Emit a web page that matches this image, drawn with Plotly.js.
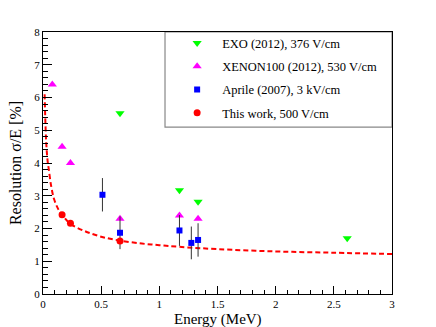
<!doctype html>
<html lang="en">
    <head>
        <meta charset="UTF-8" />
        <title>Energy resolution</title>
        <script src="https://cdn.plot.ly/plotly-3.0.1.min.js"></script>
        <style>
            body {
                margin: 0;
                background: white;
            }
            #chart {
                width: 436px;
                height: 327px;
            }
        </style>
    </head>
    <body>
        <div id="chart"></div>
        <script>
            // EXO (2012), 376 V/cm
            const exoE = [0.662, 1.173, 1.333, 2.615];
            const exoRes = [5.52, 3.17, 2.82, 1.7];

            // XENON100 (2012), 530 V/cm
            const xenonE = [0.08, 0.164, 0.236, 0.662, 1.173, 1.333];
            const xenonRes = [6.4, 4.5, 4.0, 2.3, 2.4, 2.3];

            // Aprile (2007), 3 kV/cm
            const aprileE = [0.511, 0.662, 1.173, 1.275, 1.333];
            const aprileRes = [3.03, 1.87, 1.94, 1.56, 1.65];
            const aprileErr = [0.51, 0.5, 0.47, 0.5, 0.51];

            // This work, 500 V/cm
            const thisE = [0.164, 0.236, 0.662];
            const thisRes = [2.42, 2.16, 1.62];

            // fitted curve
            const fitE = [0.014, 0.02, 0.028, 0.04, 0.05, 0.07, 0.095, 0.13, 0.164, 0.236, 0.36, 0.5, 0.662, 0.85, 1.0, 1.173, 1.5, 2.0, 2.5, 3.0];
            const fitRes = [6.1, 5.3, 4.6, 4.05, 3.8, 3.3, 2.9, 2.6, 2.42, 2.14, 1.92, 1.75, 1.63, 1.54, 1.49, 1.44, 1.37, 1.3, 1.26, 1.22];

            const font = "Liberation Serif";

            const traces = [
                {
                    x: fitE,
                    y: fitRes,
                    type: "scatter",
                    mode: "lines",
                    line: { color: "#ff0000", width: 2, dash: "5px,3px", shape: "spline" },
                    showlegend: false,
                    hoverinfo: "skip",
                },
                {
                    x: exoE,
                    y: exoRes,
                    type: "scatter",
                    mode: "markers",
                    name: "EXO (2012), 376 V/cm",
                    legendgroup: "a",
                    marker: { symbol: "triangle-down", color: "#00ff00", size: 8 },
                },
                {
                    x: xenonE,
                    y: xenonRes,
                    type: "scatter",
                    mode: "markers",
                    name: "XENON100 (2012), 530 V/cm",
                    legendgroup: "b",
                    marker: { symbol: "triangle-up", color: "#ff00ff", size: 8 },
                },
                {
                    x: aprileE,
                    y: aprileRes,
                    type: "scatter",
                    mode: "markers",
                    name: "Aprile (2007), 3 kV/cm",
                    legendgroup: "c",
                    marker: { symbol: "square", color: "#0000ff", size: 6 },
                    error_y: {
                        type: "data",
                        array: aprileErr,
                        color: "#333333",
                        thickness: 1,
                        width: 0,
                    },
                },
                {
                    x: thisE,
                    y: thisRes,
                    type: "scatter",
                    mode: "markers",
                    name: "This work, 500 V/cm",
                    legendgroup: "d",
                    marker: { symbol: "circle", color: "#ff0000", size: 7 },
                },
            ];

            const layout = {
                width: 436,
                height: 327,
                margin: { l: 43, r: 44, t: 32, b: 33 },
                paper_bgcolor: "white",
                plot_bgcolor: "white",
                font: { family: font, size: 11, color: "#000" },
                showlegend: true,
                legend: {
                    x: 0.37,
                    y: 1.014,
                    xanchor: "left",
                    yanchor: "top",
                    bgcolor: "rgba(0,0,0,0)",
                    borderwidth: 0,
                    font: { family: font, size: 12.5, color: "#000" },
                    tracegroupgap: 4,
                    itemwidth: 40,
                },
                xaxis: {
                    range: [0, 3],
                    dtick: 0.5,
                    ticks: "inside",
                    ticklen: 8,
                    tickcolor: "#000",
                    minor: { dtick: 0.1, ticks: "inside", ticklen: 4, tickcolor: "#000" },
                    showgrid: false,
                    zeroline: false,
                    showline: true,
                    linecolor: "#000",
                    linewidth: 1,
                    mirror: true,
                    tickfont: { family: font, size: 11 },
                },
                yaxis: {
                    range: [0, 8],
                    dtick: 1,
                    ticks: "inside",
                    ticklen: 9,
                    tickcolor: "#000",
                    minor: { dtick: 0.2, ticks: "inside", ticklen: 5, tickcolor: "#000" },
                    showgrid: false,
                    zeroline: false,
                    showline: true,
                    linecolor: "#000",
                    linewidth: 1,
                    mirror: true,
                    tickfont: { family: font, size: 11 },
                },
                annotations: [
                    {
                        text: "Energy (MeV)",
                        xref: "paper",
                        yref: "paper",
                        x: 0.5,
                        y: -0.097,
                        xanchor: "center",
                        yanchor: "middle",
                        showarrow: false,
                        borderpad: 0,
                        font: { family: font, size: 15 },
                    },
                    {
                        text: "Resolution σ/E [%]",
                        xref: "paper",
                        yref: "paper",
                        x: -0.08,
                        y: 0.5,
                        xanchor: "center",
                        yanchor: "middle",
                        textangle: -90,
                        showarrow: false,
                        font: { family: font, size: 16 },
                    },
                ],
                shapes: [
                    {
                        type: "rect",
                        xref: "paper",
                        yref: "paper",
                        x0: 0.3496,
                        x1: 1,
                        y0: 0.637,
                        y1: 1,
                        line: { color: "#888", width: 1.2 },
                        fillcolor: "white",
                        layer: "below",
                    },
                ],
            };

            Plotly.newPlot("chart", traces, layout, { staticPlot: true, displayModeBar: false });
        </script>
    </body>
</html>
